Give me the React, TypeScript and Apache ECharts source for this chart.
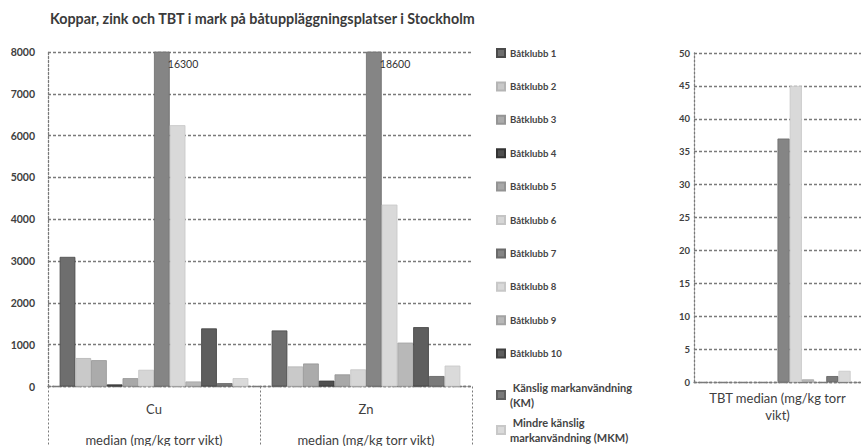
import React, { useEffect, useRef } from 'react';
import * as echarts from 'echarts';

// ---- data ----
const titleText = 'Koppar, zink och TBT i mark på båtuppläggningsplatser i Stockholm';
const metalCategories = ['Cu', 'Zn'];
const metalUnitLabel = 'median (mg/kg torr vikt)';
const tbtCategories = ['TBT median (mg/kg torr vikt)'];
const seriesNames = [
  'Båtklubb 1', 'Båtklubb 2', 'Båtklubb 3', 'Båtklubb 4', 'Båtklubb 5',
  'Båtklubb 6', 'Båtklubb 7', 'Båtklubb 8', 'Båtklubb 9', 'Båtklubb 10',
  'Känslig markanvändning (KM)', 'Mindre känslig markanvändning (MKM)',
];
const cuValues = [3100, 680, 630, 50, 200, 400, 16300, 6250, 120, 1390, 80, 200];
const znValues = [1340, 480, 550, 140, 290, 410, 18600, 4350, 1050, 1420, 250, 500];
const tbtValues: (number | null)[] = [null, null, null, null, null, null, 37, 45, 0.4, null, 0.9, 1.7];
const metalAxis = { min: 0, max: 8000, interval: 1000 };
const tbtAxis = { min: 0, max: 50, interval: 5 };

// ---- style ----
const colors = ['#6e6e6e', '#c9c9c9', '#ababab', '#4f4f4f', '#a8a8a8', '#d6d6d6', '#858585', '#d9d9d9', '#b8b8b8', '#5e5e5e', '#7a7a7a', '#dadada'];
const borders = ['#4a4a4a', '#b5b5b5', '#959595', '#333333', '#949494', '#c4c4c4', '#6a6a6a', '#c8c8c8', '#a3a3a3', '#404040', '#5f5f5f', '#c8c8c8'];
const FONT = 'Lato';
const TXT = '#404040';

export default function App() {
  const ref = useRef<HTMLDivElement>(null);
  useEffect(() => {
    if (!ref.current) return;
    const chart = echarts.init(ref.current, undefined, { renderer: 'svg' });

    const metalSeries = seriesNames.map((name, i) => ({
      name,
      type: 'bar',
      xAxisIndex: 0,
      yAxisIndex: 0,
      barGap: '0%',
      barCategoryGap: '11%',
      itemStyle: { color: colors[i], borderColor: borders[i], borderWidth: 0.8 },
      data: [cuValues[i], znValues[i]].map((v) =>
        v > metalAxis.max
          ? {
              value: v,
              label: {
                show: true,
                position: ['88%', 7],
                fontFamily: FONT,
                fontSize: 10.5,
                color: '#333',
                formatter: '{c}',
              },
            }
          : v
      ),
    }));

    const tbtSeries = seriesNames.map((name, i) => ({
      name,
      type: 'bar',
      xAxisIndex: 1,
      yAxisIndex: 1,
      barGap: '0%',
      barCategoryGap: '12.4%',
      itemStyle: { color: colors[i], borderColor: borders[i], borderWidth: 0.8 },
      data: [tbtValues[i]],
    }));

    const gridLine = { show: true, lineStyle: { type: [3, 2], color: '#7a7a7a', width: 1.3 } };
    const axisLineStyle = { show: true, lineStyle: { type: [2, 2], color: '#7a7a7a', width: 1.3 } };

    chart.setOption({
      animation: false,
      backgroundColor: '#ffffff',
      color: colors,
      title: {
        text: titleText,
        left: 50,
        top: 11,
        padding: 0,
        textStyle: { fontFamily: FONT, fontSize: 14.3, fontWeight: 'bold', color: '#3a3a3a' },
      },
      legend: [
        {
          data: seriesNames.slice(0, 10),
          orient: 'vertical',
          left: 496,
          top: 47,
          padding: 0,
          itemWidth: 8,
          itemHeight: 8,
          itemGap: 21.4,
          icon: 'rect',
          selectedMode: false,
          textStyle: { fontFamily: FONT, fontSize: 9.6, fontWeight: 'bold', color: '#444', lineHeight: 12 },
        },
        {
          data: seriesNames.slice(10),
          orient: 'vertical',
          left: 496,
          top: 380,
          padding: 0,
          itemWidth: 8,
          itemHeight: 8,
          itemGap: 5,
          icon: 'rect',
          selectedMode: false,
          formatter: (name: string) =>
            name.startsWith('Känslig') ? ' Känslig markanvändning\n(KM)' : ' Mindre känslig\nmarkanvändning (MKM)',
          textStyle: { fontFamily: FONT, fontSize: 11, fontWeight: 'bold', color: '#444', lineHeight: 15 },
        },
      ],
      grid: [
        { left: 48, top: 52, width: 424, height: 335 },
        { left: 694, top: 53, width: 178, height: 329 },
      ],
      xAxis: [
        {
          type: 'category',
          gridIndex: 0,
          data: metalCategories,
          axisLine: axisLineStyle,
          axisTick: { show: true, length: 60, lineStyle: { type: [2, 2], color: '#7a7a7a', width: 1 } },
          axisLabel: {
            margin: 13,
            formatter: (v: string) => `{a|${v}}\n{b|${metalUnitLabel}}`,
            rich: {
              a: { fontFamily: FONT, fontSize: 13, color: TXT, lineHeight: 18 },
              b: { fontFamily: FONT, fontSize: 13, color: TXT, lineHeight: 44 },
            },
          },
        },
        {
          type: 'category',
          gridIndex: 1,
          data: tbtCategories,
          axisLine: axisLineStyle,
          axisTick: { show: false },
          axisLabel: {
            margin: 7,
            fontFamily: FONT,
            fontSize: 13,
            color: TXT,
            lineHeight: 17,
            formatter: (v: string) => v.replace(' vikt', '\nvikt'),
          },
        },
      ],
      yAxis: [
        {
          type: 'value',
          gridIndex: 0,
          min: metalAxis.min,
          max: metalAxis.max,
          interval: metalAxis.interval,
          axisLine: axisLineStyle,
          splitLine: gridLine,
          axisLabel: {
            margin: 13,
            fontFamily: FONT,
            fontSize: 10.5,
            fontWeight: 'bold',
            color: TXT,
            formatter: (v: number) => String(v),
          },
        },
        {
          type: 'value',
          gridIndex: 1,
          min: tbtAxis.min,
          max: tbtAxis.max,
          interval: tbtAxis.interval,
          axisLine: axisLineStyle,
          splitLine: gridLine,
          axisLabel: {
            margin: 4,
            fontFamily: FONT,
            fontSize: 9.5,
            fontWeight: 'bold',
            color: TXT,
            formatter: (v: number) => String(v),
          },
        },
      ],
      series: [...metalSeries, ...tbtSeries],
    });
    return () => chart.dispose();
  }, []);

  return (
    <div
      ref={ref}
      style={{ position: 'fixed', left: 0, top: 0, width: 861, height: 446, background: '#fff' }}
    />
  );
}
